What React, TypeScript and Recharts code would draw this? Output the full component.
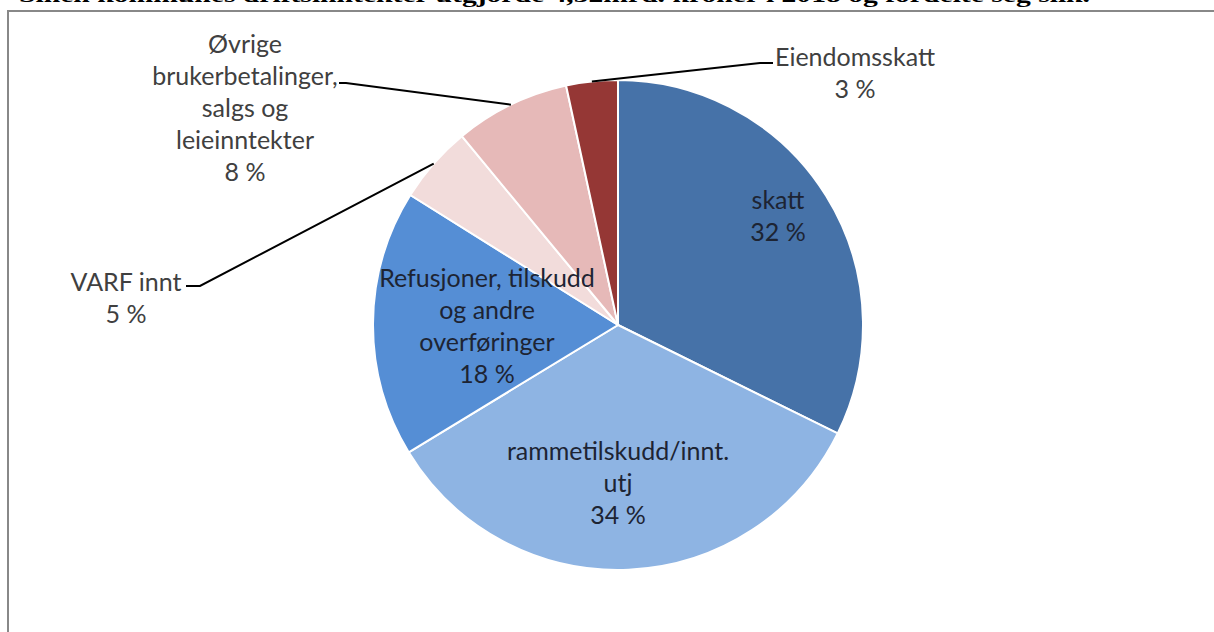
import { Cell, Pie, PieChart } from "recharts";

const categories = [
  "skatt",
  "rammetilskudd/innt. utj",
  "Refusjoner, tilskudd og andre overføringer",
  "VARF innt",
  "Øvrige brukerbetalinger, salgs og leieinntekter",
  "Eiendomsskatt",
];
const shares = [32.3, 34.0, 17.6, 5.1, 7.6, 3.4];
const labelRows = [
  ["skatt"],
  ["rammetilskudd/innt.", "utj"],
  ["Refusjoner, tilskudd", "og andre", "overføringer"],
  ["VARF innt"],
  ["Øvrige", "brukerbetalinger,", "salgs og", "leieinntekter"],
  ["Eiendomsskatt"],
];
const title =
  "Sinen kommunes driftsinntekter utgjorde 4,32mrd. kroner i 2018 og fordelte seg slik.";

const COLORS = ["#4672A8", "#8EB4E3", "#558ED5", "#F2DCDB", "#E6B9B8", "#953735"];

// label block centre relative to the pie centre; outside labels get a leader (elbow + end)
const LABEL_POS: { dx: number; dy: number; elbow?: [number, number]; end?: [number, number]; dark?: boolean }[] = [
  { dx: 160, dy: -110, dark: true },
  { dx: 0, dy: 157, dark: true },
  { dx: -131, dy: 0, dark: true },
  { dx: -492, dy: -28, elbow: [-418, -39], end: [-432, -39] },
  { dx: -373, dy: -218, elbow: [-272, -242], end: [-279, -242] },
  { dx: 237, dy: -253, elbow: [142, -262], end: [155, -262] },
];

const RADIAN = Math.PI / 180;
const LINE_H = 32;

const data = categories.map((name, i) => ({ name, value: shares[i] }));

function renderLabel(props: any) {
  const { cx, cy, midAngle, outerRadius, percent, index } = props;
  const pos = LABEL_POS[index];
  const rows = [...labelRows[index], `${Math.round(percent * 100)} %`];
  const tx = cx + pos.dx;
  const ty = cy + pos.dy;
  let leader = null;
  if (pos.elbow && pos.end) {
    const sx = cx + outerRadius * Math.cos(-midAngle * RADIAN);
    const sy = cy + outerRadius * Math.sin(-midAngle * RADIAN);
    leader = (
      <polyline
        points={`${sx},${sy} ${cx + pos.elbow[0]},${cy + pos.elbow[1]} ${cx + pos.end[0]},${cy + pos.end[1]}`}
        fill="none"
        stroke="#000"
        strokeWidth={2}
      />
    );
  }
  return (
    <g key={`lbl-${index}`}>
      {leader}
      <text
        x={tx}
        textAnchor="middle"
        fontFamily="Lato, 'Open Sans', sans-serif"
        fontSize={25}
        fill={pos.dark ? "#1d2433" : "#404040"}
      >
        {rows.map((r, i) => (
          <tspan key={i} x={tx} y={ty + (i - (rows.length - 1) / 2) * LINE_H} dominantBaseline="central">
            {r}
          </tspan>
        ))}
      </text>
    </g>
  );
}

export default function App() {
  return (
    <div
      style={{
        position: "fixed",
        left: 0,
        top: 0,
        width: 1214,
        height: 632,
        overflow: "hidden",
        background: "#fff",
      }}
    >
      <svg width={1214} height={20} style={{ position: "absolute", left: 0, top: 0 }}>
        <text
          x={19}
          y={2}
          fontFamily="'Liberation Serif', 'Times New Roman', serif"
          fontWeight="bold"
          fontSize={21}
          fill="#000"
          textLength={1071}
          lengthAdjust="spacingAndGlyphs"
        >
          {title}
        </text>
      </svg>
      <div
        style={{
          position: "absolute",
          left: 7,
          top: 10,
          width: 1230,
          height: 640,
          borderLeft: "2px solid #888",
          borderTop: "2px solid #888",
        }}
      />
      <div style={{ position: "absolute", left: 0, top: 0 }}>
        <PieChart width={1214} height={632} margin={{ top: 0, right: 0, bottom: 0, left: 0 }}>
          <Pie
            data={data}
            dataKey="value"
            nameKey="name"
            cx={618}
            cy={325}
            outerRadius={245}
            startAngle={90}
            endAngle={-270}
            stroke="#fff"
            strokeWidth={2}
            label={renderLabel}
            labelLine={false}
            isAnimationActive={false}
          >
            {data.map((d, i) => (
              <Cell key={d.name} fill={COLORS[i]} />
            ))}
          </Pie>
        </PieChart>
      </div>
    </div>
  );
}
